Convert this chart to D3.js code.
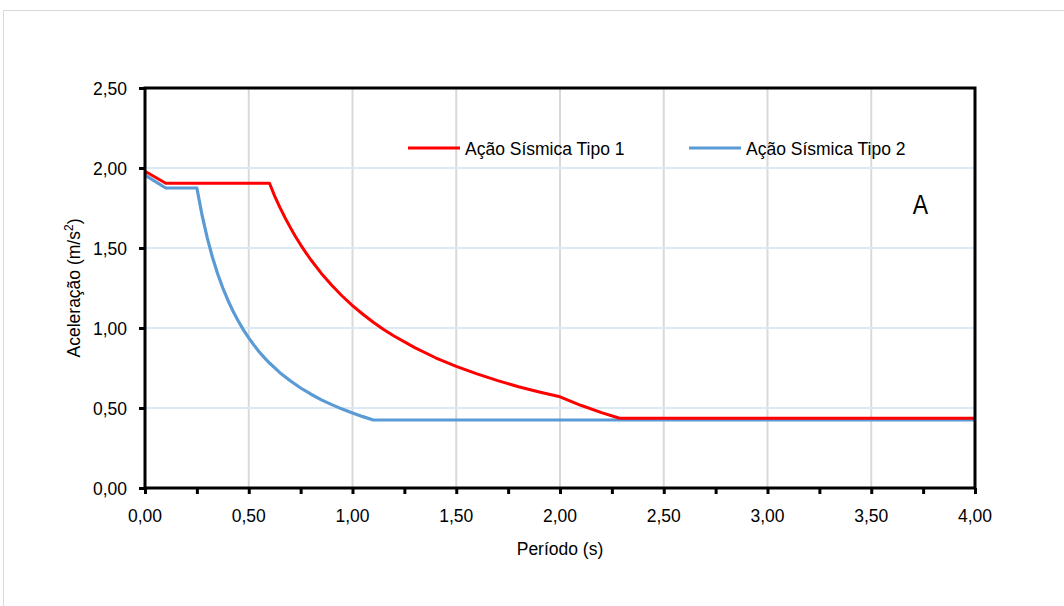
<!DOCTYPE html>
<html>
<head>
<meta charset="utf-8">
<script src="https://cdn.jsdelivr.net/npm/d3@7"></script>
<style>
  html, body { margin: 0; padding: 0; background: #fff; }
  svg text { font-family: "Liberation Sans", Arial, sans-serif; fill: #000; }
</style>
</head>
<body>
<svg id="chart" width="1064" height="606"></svg>
<script>
// Response spectra: period (s) vs acceleration (m/s²)
const periodTipo1 = [0, 0.10, 0.60, 0.625, 0.65, 0.675, 0.70, 0.725, 0.75, 0.775, 0.80, 0.85, 0.90, 0.95, 1.00, 1.05, 1.10, 1.15, 1.20, 1.30, 1.40, 1.50, 1.60, 1.70, 1.80, 1.90, 2.00, 2.10, 2.20, 2.287, 4.00];
const accelTipo1  = [1.98, 1.905, 1.905, 1.824, 1.754, 1.689, 1.629, 1.572, 1.520, 1.471, 1.425, 1.341, 1.267, 1.200, 1.140, 1.086, 1.036, 0.991, 0.950, 0.877, 0.814, 0.760, 0.713, 0.671, 0.633, 0.600, 0.570, 0.517, 0.471, 0.436, 0.436];

const periodTipo2 = [0, 0.10, 0.25, 0.275, 0.30, 0.325, 0.35, 0.375, 0.40, 0.425, 0.45, 0.475, 0.50, 0.525, 0.55, 0.575, 0.60, 0.65, 0.70, 0.75, 0.80, 0.85, 0.90, 0.95, 1.00, 1.05, 1.10, 4.00];
const accelTipo2  = [1.955, 1.875, 1.875, 1.705, 1.563, 1.442, 1.339, 1.250, 1.172, 1.103, 1.042, 0.987, 0.938, 0.893, 0.852, 0.815, 0.781, 0.721, 0.670, 0.625, 0.586, 0.551, 0.521, 0.493, 0.469, 0.446, 0.425, 0.425];

const xTicks = [0, 0.5, 1, 1.5, 2, 2.5, 3, 3.5, 4];
const xMinorTicks = [0, 0.25, 0.5, 0.75, 1, 1.25, 1.5, 1.75, 2, 2.25, 2.5, 2.75, 3, 3.25, 3.5, 3.75, 4];
const yTicks = [0, 0.5, 1, 1.5, 2, 2.5];

const seriesNames = ["Ação Sísmica Tipo 1", "Ação Sísmica Tipo 2"];
const seriesColors = ["#ff0000", "#5b9bd5"];

const fmt = v => d3.format(".2f")(v).replace(".", ",");
const FS = 17.5;

const svg = d3.select("#chart");

// outer chart frame
svg.append("rect")
  .attr("x", 3.5).attr("y", 10.5)
  .attr("width", 1100).attr("height", 650)
  .attr("fill", "none").attr("stroke", "#d9d9d9").attr("stroke-width", 1);

const plot = { left: 145, right: 975, top: 88, bottom: 488 };

const x = d3.scaleLinear().domain([0, 4]).range([plot.left, plot.right]);
const y = d3.scaleLinear().domain([0, 2.5]).range([plot.bottom, plot.top]);

// grid
svg.append("g").selectAll("line").data(xTicks.slice(1, -1)).join("line")
  .attr("x1", d => x(d)).attr("x2", d => x(d))
  .attr("y1", plot.top).attr("y2", plot.bottom)
  .attr("stroke", "#d9d9d9").attr("stroke-width", 2);

svg.append("g").selectAll("line").data(yTicks.slice(1, -1)).join("line")
  .attr("x1", plot.left).attr("x2", plot.right)
  .attr("y1", d => y(d)).attr("y2", d => y(d))
  .attr("stroke", "#dbe8f5").attr("stroke-width", 2);

// series lines
const line = d3.line().x(d => x(d[0])).y(d => y(d[1]));
const seriesData = [
  d3.zip(periodTipo1, accelTipo1),
  d3.zip(periodTipo2, accelTipo2)
];

svg.append("path").datum(seriesData[1])
  .attr("d", line).attr("fill", "none")
  .attr("stroke", seriesColors[1]).attr("stroke-width", 3.2).attr("stroke-linejoin", "round");
svg.append("path").datum(seriesData[0])
  .attr("d", line).attr("fill", "none")
  .attr("stroke", seriesColors[0]).attr("stroke-width", 3).attr("stroke-linejoin", "round");

// plot border
svg.append("rect")
  .attr("x", plot.left).attr("y", plot.top)
  .attr("width", plot.right - plot.left).attr("height", plot.bottom - plot.top)
  .attr("fill", "none").attr("stroke", "#000").attr("stroke-width", 3);

// x axis
const xAxis = d3.axisBottom(x).tickValues(xMinorTicks).tickSize(6).tickFormat("");
const gx = svg.append("g").attr("transform", `translate(0,${plot.bottom})`).call(xAxis);
gx.select(".domain").remove();
gx.selectAll(".tick line").attr("stroke", "#000").attr("stroke-width", 3);

svg.append("g").selectAll("text").data(xTicks).join("text")
  .attr("x", d => x(d)).attr("y", 522)
  .attr("text-anchor", "middle").attr("font-size", FS)
  .text(fmt);

// y axis
const yAxis = d3.axisLeft(y).tickValues(yTicks).tickSize(6).tickFormat("");
const gy = svg.append("g").attr("transform", `translate(${plot.left},0)`).call(yAxis);
gy.select(".domain").remove();
gy.selectAll(".tick line").attr("stroke", "#000").attr("stroke-width", 3);

svg.append("g").selectAll("text").data(yTicks).join("text")
  .attr("x", 127).attr("y", d => y(d) + 7)
  .attr("text-anchor", "end").attr("font-size", FS)
  .text(fmt);

// axis titles
svg.append("text")
  .attr("x", 560).attr("y", 555)
  .attr("text-anchor", "middle").attr("font-size", FS)
  .text("Período (s)");

const yt = svg.append("text")
  .attr("transform", `translate(80,${(plot.top + plot.bottom) / 2}) rotate(-90)`)
  .attr("text-anchor", "middle").attr("font-size", FS);
yt.append("tspan").text("Aceleração (m/s");
yt.append("tspan").attr("font-size", 12).attr("dy", -7).text("2");
yt.append("tspan").attr("dy", 7).text(")");

// legend
const legendX = [408, 689];
const legend = svg.append("g").selectAll("g").data(seriesNames).join("g")
  .attr("transform", (d, i) => `translate(${legendX[i]},148)`);
legend.append("line")
  .attr("x1", 0).attr("x2", 52).attr("y1", 0).attr("y2", 0)
  .attr("stroke", (d, i) => seriesColors[i]).attr("stroke-width", 3);
legend.append("text")
  .attr("x", 57).attr("y", 6.5).attr("font-size", FS)
  .text(d => d);

// panel label
svg.append("text")
  .attr("transform", "translate(920.5,214) scale(0.82,1)")
  .attr("text-anchor", "middle").attr("font-size", 28)
  .text("A");
</script>
</body>
</html>
